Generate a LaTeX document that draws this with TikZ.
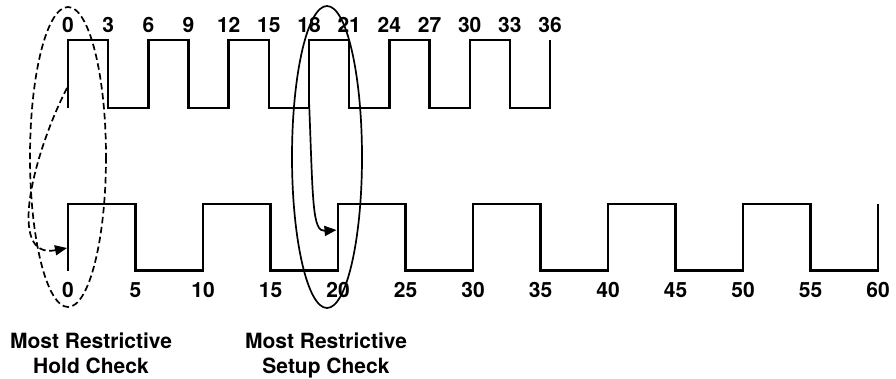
\documentclass[tikz,border=0pt]{standalone}
\usepackage{fontspec}
\setmainfont{TeX Gyre Heros}
\usetikzlibrary{arrows.meta}
\newcommand{\wavefont}{\fontsize{21}{25}\selectfont\bfseries}

\begin{document}
\begin{tikzpicture}[
    x=1pt, y=-1pt,
    wave/.style={line width=2.4pt, line join=miter},
    tick/.style={font=\wavefont, inner sep=0pt},
    caption/.style={font=\wavefont, align=center, inner sep=0pt, anchor=north},
    ring/.style={line width=1.7pt},
    hold/.style={dash pattern=on 6.5pt off 3.5pt},
    arr/.style={-{Triangle[length=12pt,width=10pt]}, line width=1.7pt}
]
\useasboundingbox (0,0) rectangle (896,378);

% fast clock, period 6
\draw[wave] (68,108) \foreach \k in {1,...,6} { -- ++(0,-68) -- ++(40.17,0) -- ++(0,68) -- ++(40.17,0) } -- ++(0,-68);
\foreach \t in {0,3,...,36}
    \node[tick] (fast\t) at ({68+13.39*\t},25) {\t};

% slow clock, period 10
\draw[wave] (68,270.5) \foreach \k in {1,...,6} { -- ++(0,-66.5) -- ++(67.5,0) -- ++(0,66.5) -- ++(67.5,0) } -- ++(0,-66.5);
\foreach \t in {0,5,...,60}
    \node[tick] (slow\t) at ({68+13.5*\t},290) {\t};

% launch/capture edges
\coordinate (holdsrc) at (67,88);
\coordinate (holddst) at (67,248);
\coordinate (setupsrc) at (309,100);
\coordinate (setupdst) at (336.5,230);

\draw[ring, hold] (68,157) ellipse [x radius=38, y radius=150];
\draw[ring] (327,157) ellipse [x radius=35, y radius=151];

\draw[arr, hold] (holdsrc) .. controls (35,150) and (5,260) .. (holddst);
\draw[arr] (setupsrc) .. controls (313,200) and (312,232) .. (setupdst);

\node[caption] (holdtxt) at (91,333) {Most Restrictive\\Hold Check};
\node[caption] (setuptxt) at (326,333) {Most Restrictive\\Setup Check};

\end{tikzpicture}
\end{document}
